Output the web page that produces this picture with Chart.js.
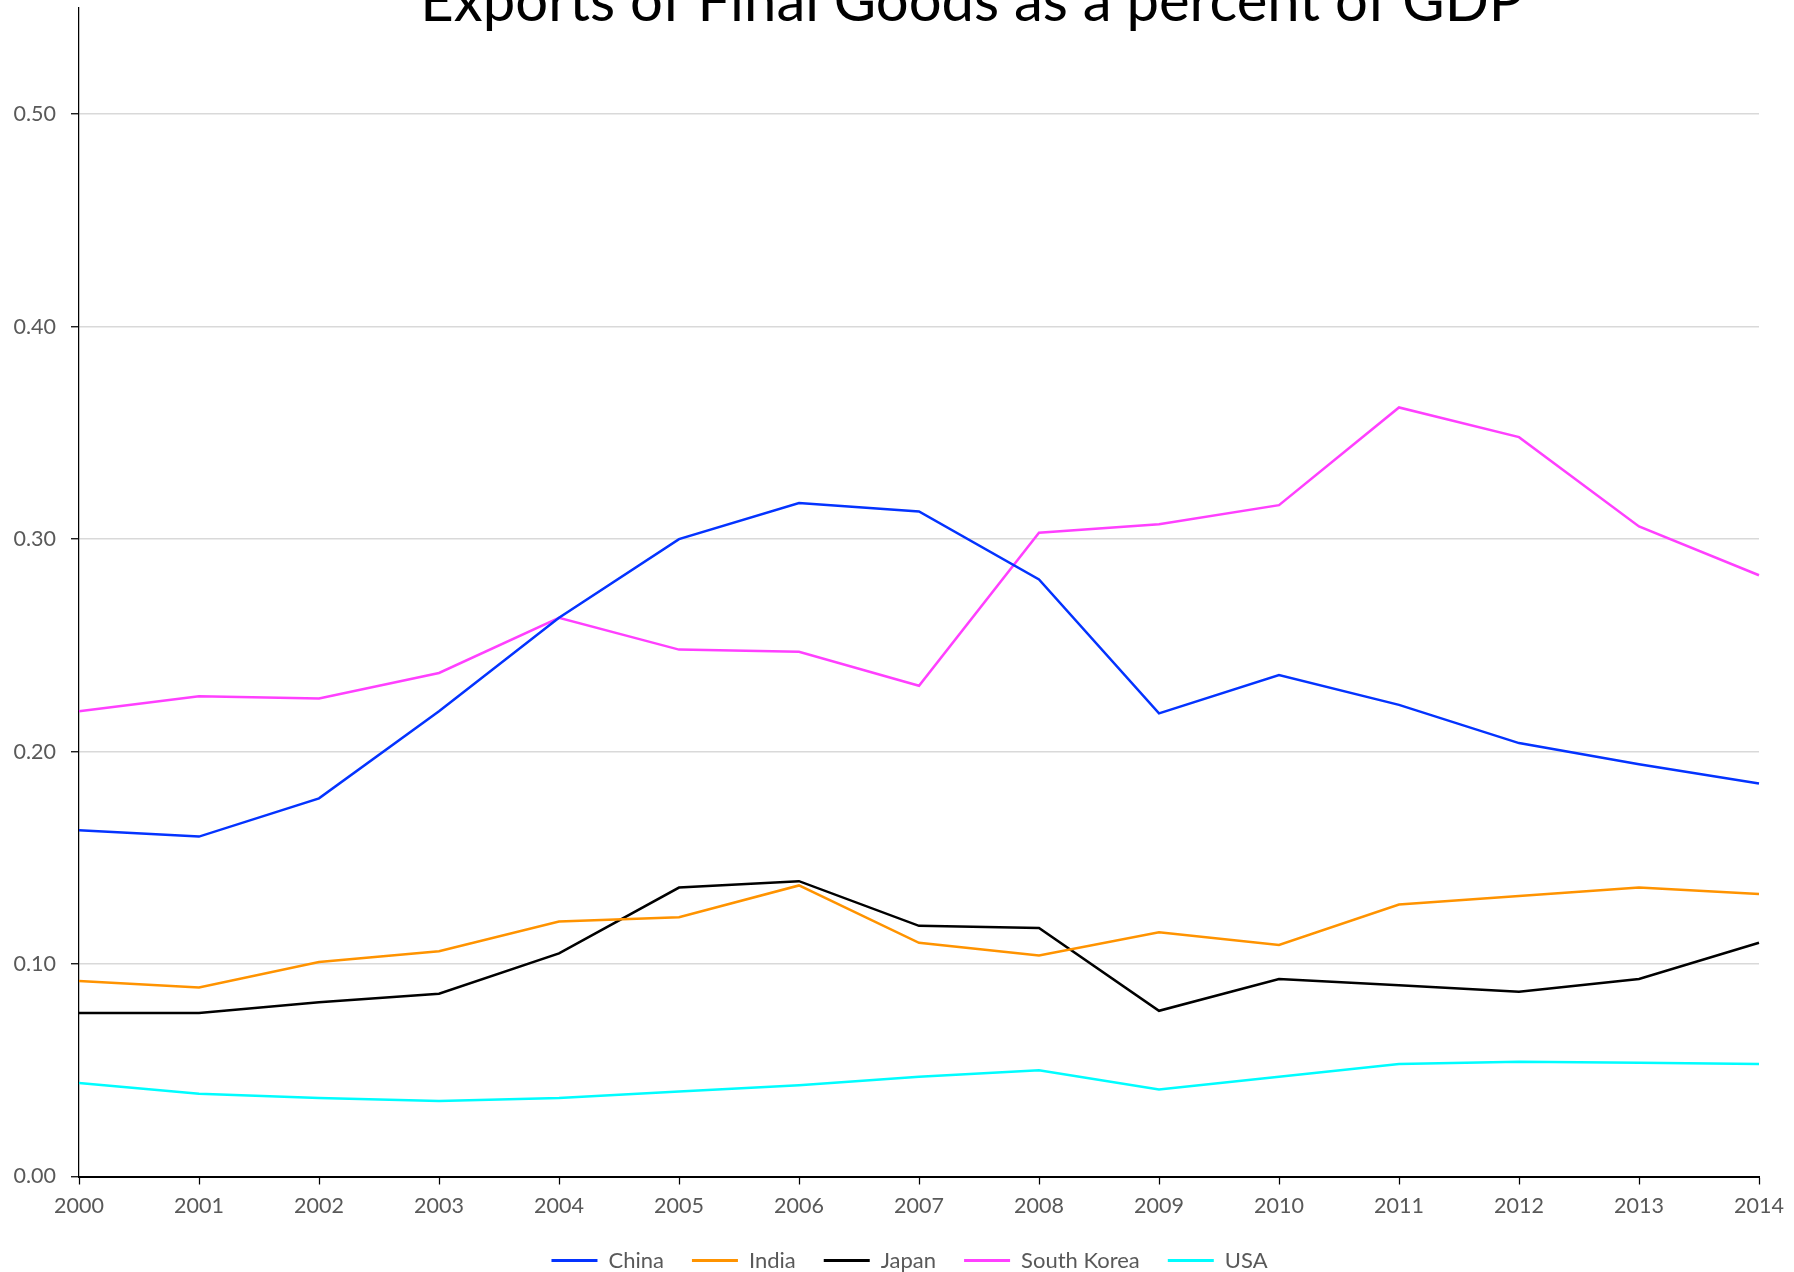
<!DOCTYPE html>
<html>
<head>
<meta charset="utf-8">
<title>Exports of Final Goods as a percent of GDP</title>
<script src="https://cdn.jsdelivr.net/npm/chart.js@4/dist/chart.umd.min.js"></script>
<style>
  html, body { margin: 0; padding: 0; background: #fff; }
  canvas { display: block; }
</style>
</head>
<body>
<canvas id="exportsChart" width="1794" height="1272"></canvas>
<script>
const years = ['2000', '2001', '2002', '2003', '2004', '2005', '2006', '2007',
  '2008', '2009', '2010', '2011', '2012', '2013', '2014'];

const china = [0.163, 0.160, 0.178, 0.219, 0.263, 0.300, 0.317, 0.313,
  0.281, 0.218, 0.236, 0.222, 0.204, 0.194, 0.185];
const india = [0.092, 0.089, 0.101, 0.106, 0.120, 0.122, 0.137, 0.110,
  0.104, 0.115, 0.109, 0.128, 0.132, 0.136, 0.133];
const japan = [0.077, 0.077, 0.082, 0.086, 0.105, 0.136, 0.139, 0.118,
  0.117, 0.078, 0.093, 0.090, 0.087, 0.093, 0.110];
const southKorea = [0.219, 0.226, 0.225, 0.237, 0.263, 0.248, 0.247, 0.231,
  0.303, 0.307, 0.316, 0.362, 0.348, 0.306, 0.283];
const usa = [0.044, 0.039, 0.037, 0.0355, 0.037, 0.040, 0.043, 0.047,
  0.050, 0.041, 0.047, 0.053, 0.054, 0.0535, 0.053];

const seriesNames = ['China', 'India', 'Japan', 'South Korea', 'USA'];
const seriesColors = ['#0433ff', '#ff9300', '#000000', '#ff40ff', '#00fdff'];
const seriesValues = [china, india, japan, southKorea, usa];

const chartTitle = 'Exports of Final Goods as a percent of GDP';
const labelColor = '#595959';

// title sits partly above the canvas edge, so draw it by hand
const titlePlugin = {
  id: 'topTitle',
  afterLayout(chart) {
    // nudge the legend row a little left of the plot centre
    chart.legend.left -= 9.5;
    chart.legend.right -= 9.5;
  },
  afterDraw(chart) {
    const ctx = chart.ctx;
    ctx.save();
    ctx.font = '58px Lato';
    ctx.fillStyle = '#000';
    ctx.textAlign = 'center';
    ctx.textBaseline = 'alphabetic';
    ctx.fillText(chartTitle, 972, 21);
    ctx.restore();
  }
};

const datasets = seriesNames.map((name, i) => ({
  label: name,
  data: seriesValues[i],
  borderColor: seriesColors[i],
  backgroundColor: seriesColors[i],
  borderWidth: 2.5,
  pointRadius: 0,
  tension: 0,
  fill: false
}));

const ctx = document.getElementById('exportsChart').getContext('2d');
new Chart(ctx, {
  type: 'line',
  data: { labels: years, datasets: datasets },
  plugins: [titlePlugin],
  options: {
    responsive: false,
    animation: false,
    layout: { padding: { top: 8, right: 35, left: 0, bottom: -9.5 } },
    scales: {
      x: {
        offset: false,
        border: { display: true, color: '#000', width: 2 },
        grid: { display: true, drawOnChartArea: false, tickLength: 8, tickColor: '#000', tickWidth: 1.25 },
        ticks: {
          color: labelColor,
          font: { family: 'Lato', size: 21.5 },
          padding: 9,
          maxRotation: 0,
          autoSkip: false
        },
        afterFit(scale) {
          scale.height = 45;
          scale.paddingLeft = 0;
          scale.paddingRight = 0;
        }
      },
      y: {
        min: 0,
        max: 0.55,
        border: { display: true, color: '#000', width: 1.25 },
        grid: {
          color: (c) => (c.tick && c.tick.value === 0 ? 'rgba(0,0,0,0)' : '#d9d9d9'),
          lineWidth: 1.5,
          tickLength: 8,
          tickColor: '#000',
          tickWidth: 1.25
        },
        ticks: {
          stepSize: 0.1,
          includeBounds: false,
          color: labelColor,
          font: { family: 'Lato', size: 21.5 },
          padding: 15,
          callback: (v) => v.toFixed(2)
        },
        afterFit(scale) {
          scale.width = 79;
          scale.paddingTop = 0;
          scale.paddingBottom = 0;
        }
      }
    },
    plugins: {
      title: { display: false },
      tooltip: { enabled: false },
      legend: {
        position: 'bottom',
        fullSize: false,
        labels: {
          color: labelColor,
          font: { family: 'Lato', size: 22 },
          boxWidth: 46,
          boxHeight: 3,
          padding: 28,
          generateLabels(chart) {
            return chart.data.datasets.map((ds, i) => ({
              text: ds.label,
              fillStyle: ds.borderColor,
              strokeStyle: ds.borderColor,
              lineWidth: 0,
              fontColor: labelColor,
              hidden: false,
              datasetIndex: i
            }));
          }
        }
      }
    }
  }
});
</script>
</body>
</html>
